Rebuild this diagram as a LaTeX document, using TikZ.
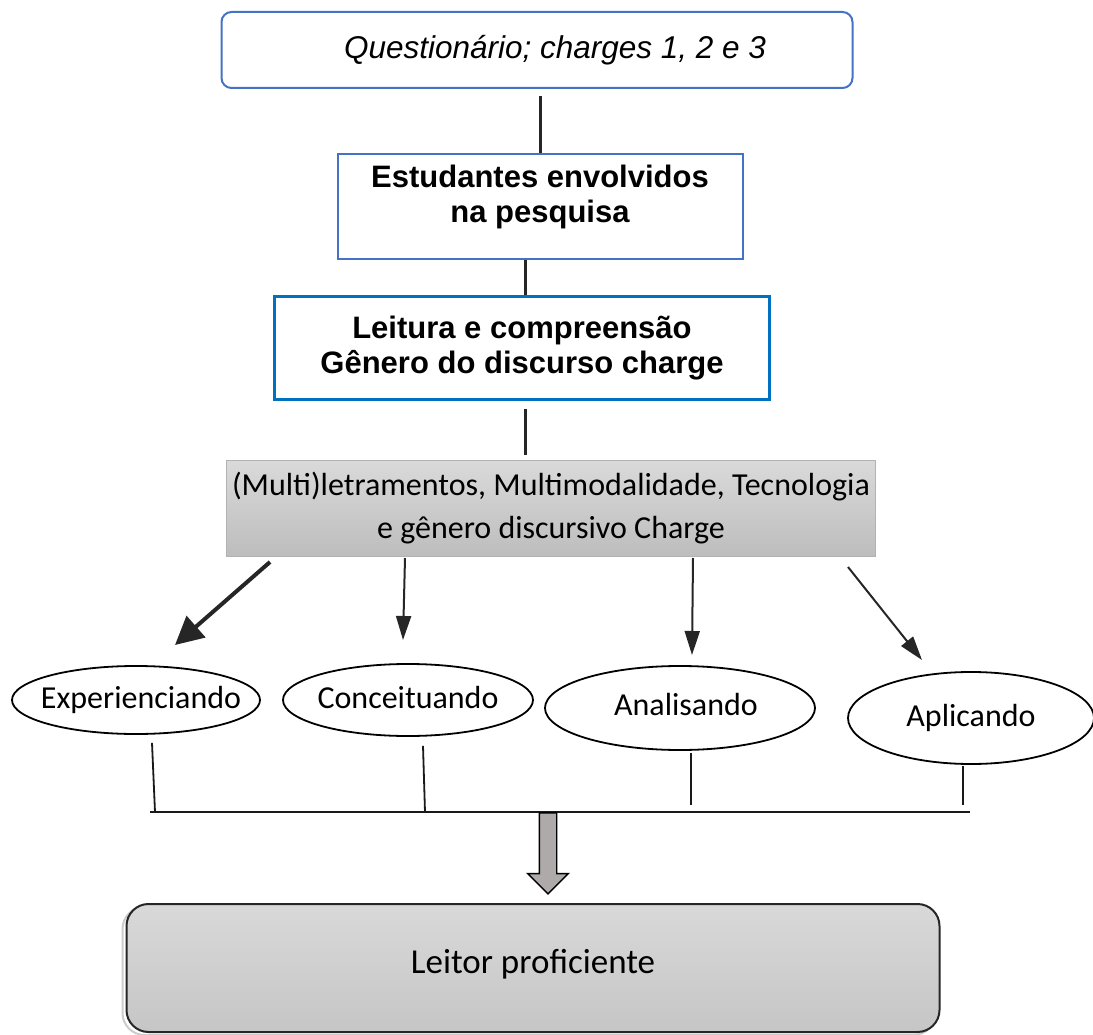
\documentclass[tikz,border=0pt]{standalone}
\usepackage{fontspec}
\setmainfont{Liberation Sans}
\newfontfamily\calibri{Carlito}
\usetikzlibrary{arrows.meta,shapes.geometric,shapes.arrows}
\definecolor{boxblue}{HTML}{4472C4}
\definecolor{brightblue}{HTML}{0070C0}
\definecolor{lightgrey}{HTML}{DADADA}
\definecolor{midgrey}{HTML}{BDBDBD}
\definecolor{arrowgrey}{HTML}{AEAAAA}

\begin{document}
\begin{tikzpicture}[x=1pt,y=-1pt,
        line/.style={draw=black!85, line width=3pt},
        thin line/.style={draw=black!90, line width=1.8pt},
        arr/.style={draw=black!85, line width=2pt,
                        -{Triangle[length=24pt,width=15pt]}},
        big arr/.style={draw=black!85, line width=4pt,
                        -{Triangle[length=28pt,width=28pt]}},
        bx/.style={rectangle, draw=boxblue, line width=2pt, align=center,
                        font=\fontsize{31}{35}\selectfont\bfseries},
        el/.style={ellipse, draw, line width=1.8pt, inner sep=0pt,
                        font=\calibri\fontsize{32}{36}\selectfont}]
    \useasboundingbox (0,0) rectangle (1093,1035);

    % boxes on top
    \node[bx, rounded corners=10pt, minimum width=631pt, minimum height=76pt,
        font=\itshape\fontsize{31.5}{36}\selectfont] (quest) at (537,50)
        {\hspace*{36pt}Questionário; charges 1, 2 e 3};
    \node[bx, minimum width=405pt, minimum height=105pt, text depth=27pt]
        (estud) at (540,207) {Estudantes envolvidos\\ na pesquisa};
    \node[bx, draw=brightblue, line width=3pt, minimum width=495pt,
        minimum height=103pt] (leit) at (522,348)
        {Leitura e compreensão\\ Gênero do discurso charge};
    \node[rectangle, draw=gray!60, line width=1pt, top color=lightgrey,
        bottom color=midgrey, minimum width=649pt, minimum height=96pt,
        align=center, font=\calibri\fontsize{32}{40}\selectfont]
        (multi) at (551,508)
        {\raisebox{3pt}{(Multi)letramentos, Multimodalidade, Tecnologia}\\ e gênero discursivo Charge};

    \draw[line] ([xshift=3pt,yshift=-7pt]quest.south) -- (estud.north);
    \draw[line] ([xshift=3pt]leit.north) -- ([xshift=3pt]leit.north |- estud.south);
    \draw[line] ([xshift=3pt,yshift=-8pt]leit.south)
        -- ([xshift=3pt,yshift=5pt]leit.south |- multi.north);

    % the four steps
    \node[el, minimum width=248pt, minimum height=68pt] (exper) at (136,700)
        {\makebox[0pt]{\hspace*{10pt}\raisebox{2pt}{Experienciando}}};
    \node[el, minimum width=250pt, minimum height=72pt] (conc) at (408,700)
        {\makebox[0pt]{\raisebox{5pt}{Conceituando}}};
    \node[el, minimum width=270pt, minimum height=84pt] (anal) at (680,708)
        {\makebox[0pt]{\hspace*{12pt}\raisebox{8pt}{Analisando}}};
    \node[el, minimum width=246pt, minimum height=92pt] (aplic) at (971,718)
        {\makebox[0pt]{\raisebox{4pt}{Aplicando}}};

    \coordinate (s1) at (270,562);  \coordinate (t1) at (175,645);
    \coordinate (s2) at (405,558);  \coordinate (t2) at (403,640);
    \coordinate (s3) at (693,558);  \coordinate (t3) at (692,655);
    \coordinate (s4) at (848,567);  \coordinate (t4) at (922,660);
    \draw[big arr] (s1) -- (t1);
    \draw[arr] (s2) -- (t2);
    \draw[arr] (s3) -- (t3);
    \draw[arr] (s4) -- (t4);

    % joining bar
    \coordinate (barL) at (150,812);  \coordinate (barR) at (970,812);
    \coordinate (f1) at (155,812);  \coordinate (f2) at (425,812);
    \coordinate (f3) at (691,805);  \coordinate (f4) at (963,805);
    \draw[thin line] ([xshift=16pt,yshift=-8pt]exper.south) -- (f1);
    \draw[thin line] ([xshift=15pt,yshift=-9pt]conc.south) -- (f2);
    \draw[thin line] ([xshift=11pt,yshift=-2pt]anal.south) -- (f3);
    \draw[thin line] ([xshift=-8pt,yshift=-1pt]aplic.south) -- (f4);
    \draw[thin line] (barL) -- (barR);

    \node[single arrow, shape border rotate=270, draw=black, line width=1.4pt,
        fill=arrowgrey, minimum height=81pt, minimum width=39pt, inner sep=8pt,
        single arrow head extend=11.5pt] (down) at (548,849) {};

    \node[rectangle, rounded corners=22pt, draw=black!85, line width=2pt,
        top color=gray!30, bottom color=gray!45, minimum width=813pt,
        minimum height=128pt, font=\calibri\fontsize{35}{40}\selectfont,
        preaction={draw=gray!40, line width=2pt,
            transform canvas={xshift=-4pt, yshift=-3pt}}]
        (leitor) at (533,968) {\raisebox{13pt}{Leitor proficiente}};
\end{tikzpicture}
\end{document}
